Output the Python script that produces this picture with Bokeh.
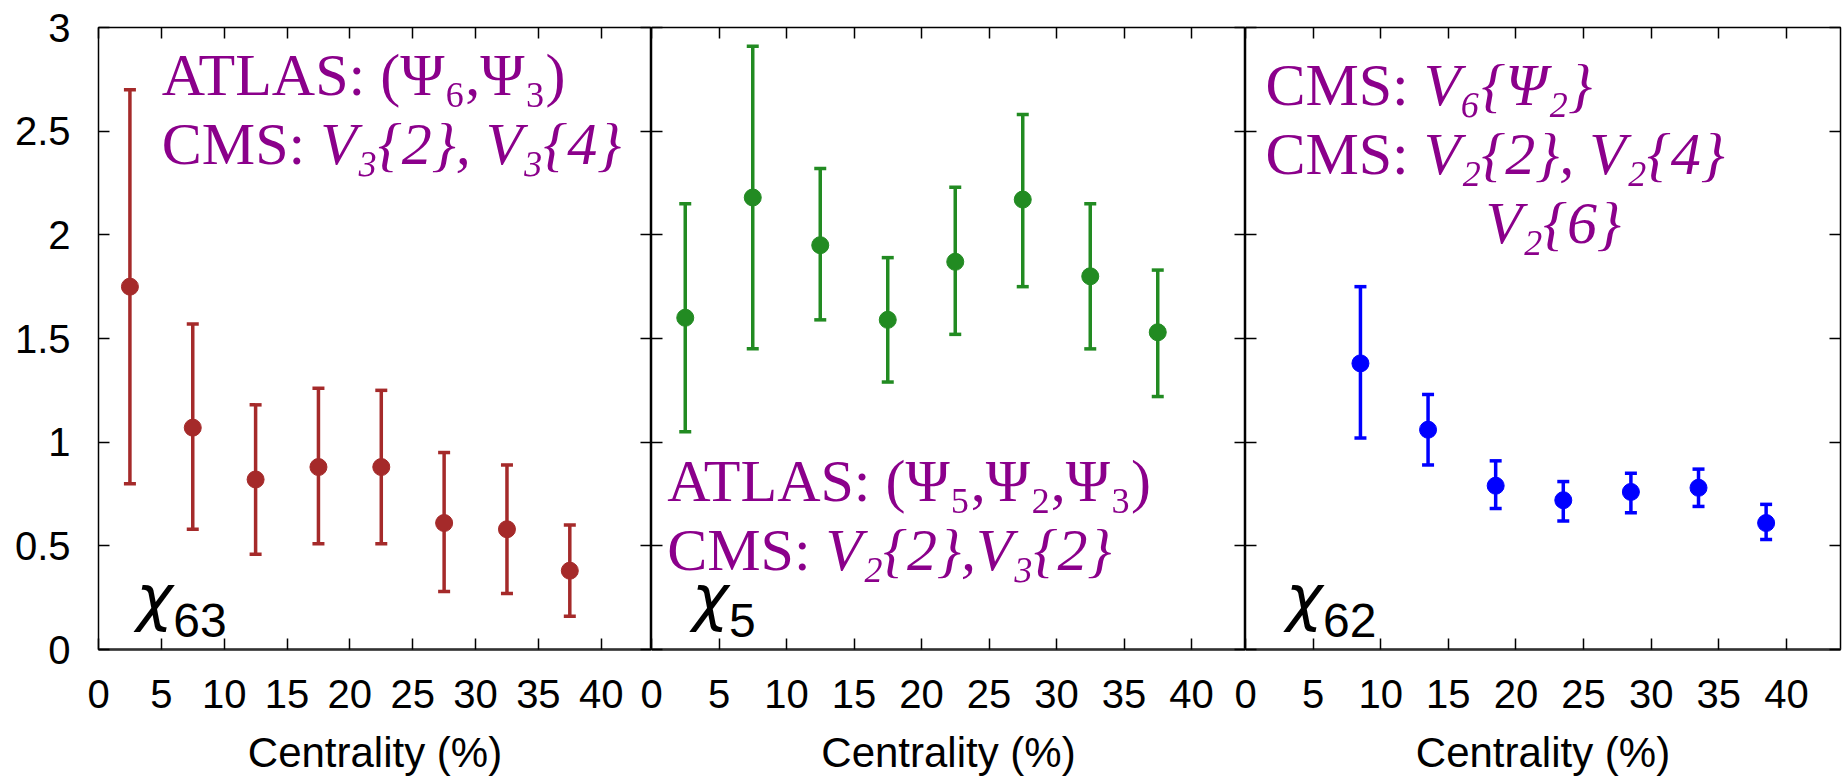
from bokeh.plotting import figure
from bokeh.layouts import row
from bokeh.models import (ColumnDataSource, Whisker, TeeHead, LinearAxis, FixedTicker,
                          Range1d, CustomLabelingPolicy)
from bokeh.core.properties import value
from bokeh.embed import file_html
from bokeh.resources import INLINE

# ---------------- data ----------------
cent_63 = [2.5, 7.5, 12.5, 17.5, 22.5, 27.5, 32.5, 37.5]
chi63 = [1.75, 1.07, 0.82, 0.88, 0.88, 0.61, 0.58, 0.38]
chi63_hi = [2.70, 1.57, 1.18, 1.26, 1.25, 0.95, 0.89, 0.60]
chi63_lo = [0.80, 0.58, 0.46, 0.51, 0.51, 0.28, 0.27, 0.16]

cent_5 = [2.5, 7.5, 12.5, 17.5, 22.5, 27.5, 32.5, 37.5]
chi5 = [1.60, 2.18, 1.95, 1.59, 1.87, 2.17, 1.80, 1.53]
chi5_hi = [2.15, 2.91, 2.32, 1.89, 2.23, 2.58, 2.15, 1.83]
chi5_lo = [1.05, 1.45, 1.59, 1.29, 1.52, 1.75, 1.45, 1.22]

cent_62 = [8.5, 13.5, 18.5, 23.5, 28.5, 33.5, 38.5]
chi62 = [1.38, 1.06, 0.79, 0.72, 0.76, 0.78, 0.61]
chi62_hi = [1.75, 1.23, 0.91, 0.81, 0.85, 0.87, 0.70]
chi62_lo = [1.02, 0.89, 0.68, 0.62, 0.66, 0.69, 0.53]

x_ticks = [0, 5, 10, 15, 20, 25, 30, 35, 40]
x_tick_labels = ["0", "5", "10", "15", "20", "25", "30", "35", "40"]
y_ticks = [0, 0.5, 1, 1.5, 2, 2.5, 3]
y_tick_labels = ["0", "0.5", "1", "1.5", "2", "2.5", "3"]
x_label = "Centrality (%)"

SANS = "Liberation Sans"
SERIF = "Liberation Serif"
CHI_FONT = "DejaVu Sans"
PURPLE = "#8B008B"
NOTE_FS = 60

NO_LABELS = CustomLabelingPolicy(code="return []")


def style_axis(ax, ticks, labels, show_labels, fs="40px", standoff=0):
    ax.ticker = FixedTicker(ticks=ticks)
    ax.major_label_overrides = {t: l for t, l in zip(ticks, labels)}
    ax.major_tick_in = 11
    ax.major_tick_out = 0
    ax.major_tick_line_color = "black"
    ax.major_tick_line_width = 1.5
    ax.minor_tick_line_color = None
    ax.axis_line_color = None
    if show_labels:
        ax.major_label_text_font = SANS
        ax.major_label_text_font_size = fs
        ax.major_label_text_color = "black"
        ax.major_label_standoff = standoff
    else:
        ax.major_label_policy = NO_LABELS
        ax.major_label_text_font_size = "0px"
        ax.major_label_standoff = 0


def make_panel(xs, ys, hi, lo, color, width, pad_left, pad_right, show_y,
               sub, notes):
    p = figure(width=width, height=778, output_backend="svg", toolbar_location=None,
               x_range=Range1d(0, 44), y_range=Range1d(0, 3),
               min_border_left=pad_left, min_border_right=pad_right,
               min_border_top=27, min_border_bottom=127)
    p.grid.visible = False
    p.outline_line_color = "black"
    p.outline_line_width = 1.5
    p.background_fill_color = None
    p.border_fill_color = None

    # bottom axis
    style_axis(p.xaxis[0], x_ticks, x_tick_labels, True, standoff=30)
    p.xaxis[0].axis_line_color = "#333333"
    p.xaxis[0].axis_line_width = 2.5
    p.xaxis[0].axis_label = x_label
    p.xaxis[0].axis_label_text_font = SANS
    p.xaxis[0].axis_label_text_font_size = "42px"
    p.xaxis[0].axis_label_text_font_style = "normal"
    p.xaxis[0].axis_label_text_color = "black"
    p.xaxis[0].axis_label_standoff = 18
    # left axis
    style_axis(p.yaxis[0], y_ticks, y_tick_labels, show_y, standoff=28)
    # top and right mirror axes
    top = LinearAxis()
    style_axis(top, x_ticks, x_tick_labels, False)
    p.add_layout(top, "above")
    right = LinearAxis()
    style_axis(right, y_ticks, y_tick_labels, False)
    p.add_layout(right, "right")

    src = ColumnDataSource(dict(x=xs, y=ys, hi=hi, lo=lo))
    w = Whisker(source=src, base="x", upper="hi", lower="lo",
                line_color=color, line_width=3.5,
                upper_head=TeeHead(size=12, line_color=color, line_width=3.5),
                lower_head=TeeHead(size=12, line_color=color, line_width=3.5))
    p.add_layout(w)
    p.scatter("x", "y", source=src, size=17, color=color, marker="circle")

    # chi label
    p.text(x=[3.0], y=[0.133], text=["χ"], text_font=value(CHI_FONT), y_offset=-24,
           text_font_size="62px", text_font_style="italic",
           text_color="black", text_baseline="alphabetic")
    p.text(x=[3.0], y=[0.037], text=[sub], x_offset=37, y_offset=-21,
           text_font=value(SANS),
           text_font_size="48px", text_color="black", text_baseline="alphabetic")

    for (tx, ty, pieces) in notes:
        off = 0.0
        for (s, italic, adv) in pieces:
            p.text(x=[tx], y=[ty], text=[s], x_offset=off, y_offset=-22,
                   text_font=value(SERIF),
                   text_font_size=f"{NOTE_FS}px",
                   text_font_style="italic" if italic else "normal",
                   text_color=PURPLE, text_baseline="alphabetic")
            off += adv * NOTE_FS
    return p


CMS_ADV = 2.64

notes1 = [
    (5.04, 2.665, [("ATLAS: (Ψ₆,Ψ₃)", False, 0)]),
    (5.04, 2.33, [("CMS: ", False, CMS_ADV), ("V₃{2}, V₃{4}", True, 0)]),
]
notes2 = [
    (1.16, 0.706, [("ATLAS: (Ψ₅,Ψ₂,Ψ₃)", False, 0)]),
    (1.16, 0.372, [("CMS: ", False, CMS_ADV), ("V₂{2},V₃{2}", True, 0)]),
]
notes3 = [
    (1.47, 2.618, [("CMS: ", False, CMS_ADV), ("V₆{Ψ₂}", True, 0)]),
    (1.47, 2.286, [("CMS: ", False, CMS_ADV), ("V₂{2}, V₂{4}", True, 0)]),
    (17.74, 1.949, [("V₂{6}", True, 0)]),
]

PAD = 20
p1 = make_panel(cent_63, chi63, chi63_hi, chi63_lo, "#A52A2A", 651, 98, 0, True, "63", notes1)
p2 = make_panel(cent_5, chi5, chi5_hi, chi5_lo, "#228B22", PAD + 594, PAD, 0, False, "5", notes2)
p3 = make_panel(cent_62, chi62, chi62_hi, chi62_lo, "#0000FF", PAD + 595 + 6, PAD, 6, False, "62", notes3)
p2.margin = (0, 0, 0, -PAD)
p3.margin = (0, 0, 0, -PAD)

layout = row(p1, p2, p3, spacing=0)
open("out.html", "w").write(file_html(layout, INLINE))
